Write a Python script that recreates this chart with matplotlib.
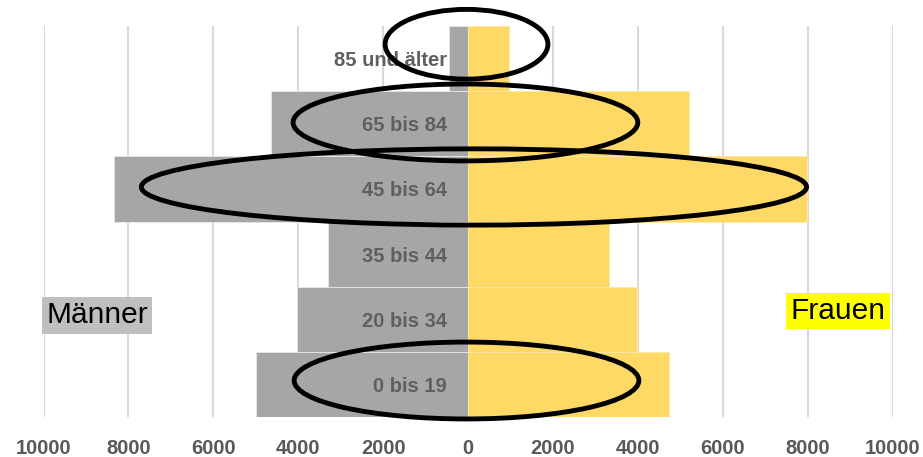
import matplotlib
matplotlib.use("Agg")
import matplotlib.pyplot as plt
from matplotlib.patches import Ellipse

# age groups, bottom to top
groups = ["0 bis 19", "20 bis 34", "35 bis 44", "45 bis 64", "65 bis 84", "85 und älter"]
maenner = [5000, 4020, 3300, 8350, 4640, 450]
frauen = [4730, 3980, 3320, 7980, 5200, 960]
xticks = [-10000, -8000, -6000, -4000, -2000, 0, 2000, 4000, 6000, 8000, 10000]

# circled groups: (x center, y center, width, height) in data units
marks = [(-35, 5.22, 3835, 1.07),
         (-60, 4.02, 8120, 1.18),
         (140, 3.03, 15670, 1.17),
         (-35, 0.06, 8120, 1.18)]

font = "Liberation Sans"

fig = plt.figure(figsize=(9.23, 4.57), dpi=100)
ax = fig.add_axes([43.5 / 923, 40 / 457, 849 / 923, 391 / 457])

y = list(range(len(groups)))
ax.barh(y, [-m for m in maenner], height=1.0, color="#A6A6A6",
        edgecolor="#E8E8E8", linewidth=0.6, zorder=2)
ax.barh(y, frauen, height=1.0, color="#FFD966",
        edgecolor="#FFE9A8", linewidth=0.6, zorder=2)

ax.set_xlim(-10000, 10000)
ax.set_ylim(-0.5, 5.5)
ax.set_xticks(xticks)
ax.set_xticklabels([str(abs(t)) for t in xticks], fontfamily=font,
                   fontweight="bold", fontsize=14.5, color="#595959")
ax.tick_params(axis="x", length=0, pad=16)
ax.set_yticks([])
for s in ax.spines.values():
    s.set_visible(False)
ax.grid(axis="x", color="#D9D9D9", linewidth=1.5, zorder=0)
ax.set_axisbelow(True)

for yi, g in zip(y, groups):
    ax.annotate(g, xy=(0, yi), xytext=(-15, 0), textcoords="offset points",
                ha="right", va="center_baseline", fontfamily=font,
                fontweight="bold", fontsize=14.5, color="#5F5F5F", zorder=3)

for cx, cy, w, h in marks:
    ax.add_patch(Ellipse((cx, cy), w, h, fill=False, edgecolor="black",
                         linewidth=3.5, zorder=5, clip_on=False))

ax.text(-8730, 1.06, "Männer", ha="center", va="center", fontsize=21.5,
        fontfamily=font, color="black", zorder=4,
        bbox=dict(boxstyle="square,pad=0.14", facecolor="#BFBFBF", edgecolor="none"))
ax.text(8718, 1.13, "Frauen", ha="center", va="center", fontsize=21.5,
        fontfamily=font, color="black", zorder=4,
        bbox=dict(boxstyle="square,pad=0.14", facecolor="#FFFF00", edgecolor="none"))

fig.savefig("out.png", dpi=100)
